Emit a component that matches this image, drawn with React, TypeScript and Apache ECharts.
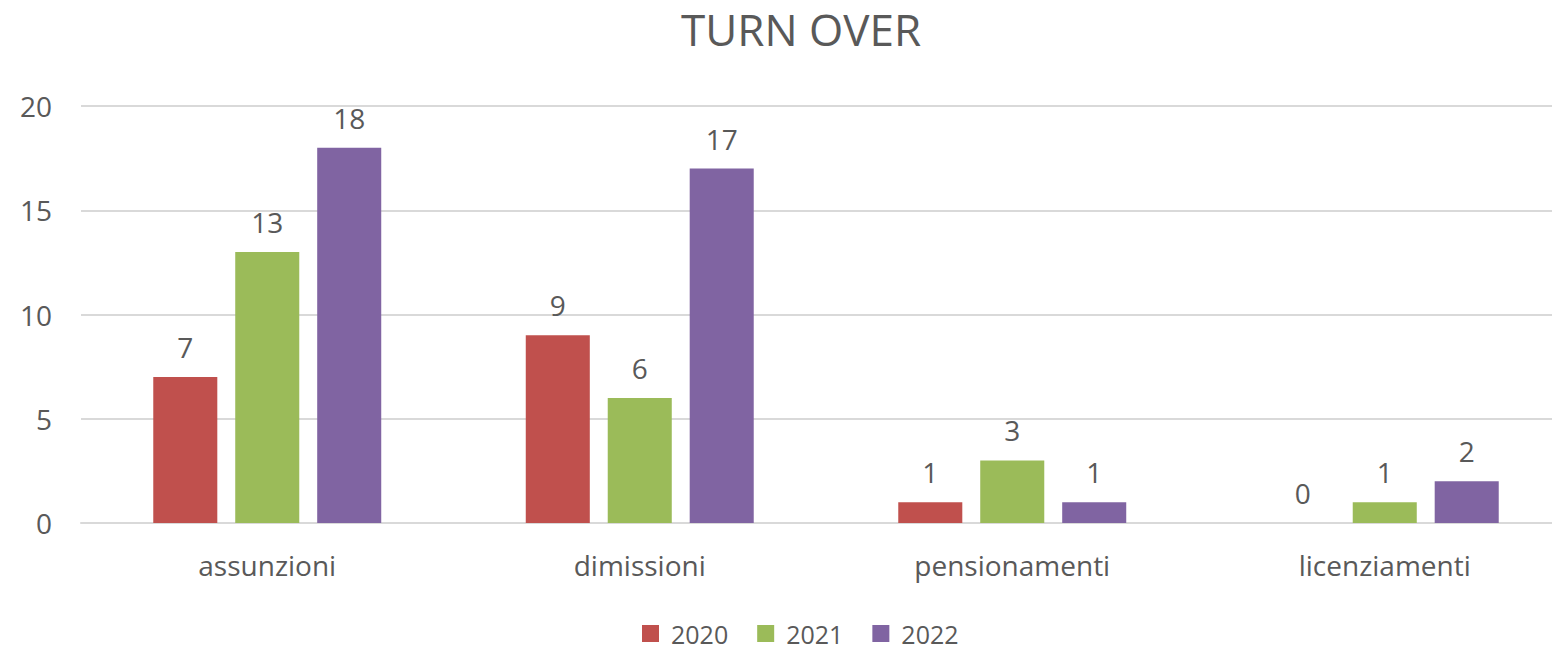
import React, { useEffect, useRef } from "react";
import * as echarts from "echarts";

const categories = ["assunzioni", "dimissioni", "pensionamenti", "licenziamenti"];
const years = ["2020", "2021", "2022"];
const values2020 = [7, 9, 1, 0];
const values2021 = [13, 6, 3, 1];
const values2022 = [18, 17, 1, 2];
const colors = ["#C0504D", "#9BBB59", "#8064A2"];
const yTicks = [0, 5, 10, 15, 20];

const FONT = "'Open Sans', 'Liberation Sans', sans-serif";
const TEXT = "#595959";

export default function App() {
  const ref = useRef<HTMLDivElement>(null);
  useEffect(() => {
    if (!ref.current) return;
    const chart = echarts.init(ref.current, undefined, { renderer: "svg" });
    const data = [values2020, values2021, values2022];
    chart.setOption({
      animation: false,
      backgroundColor: "#ffffff",
      textStyle: { fontFamily: FONT },
      title: {
        text: "TURN OVER",
        left: 796,
        top: 2,
        textAlign: "center",
        textStyle: { fontFamily: FONT, fontSize: 44, fontWeight: "normal", color: TEXT },
      },
      legend: {
        data: years,
        left: 637,
        top: 619,
        padding: [2, 5, 2, 5],
        itemWidth: 17,
        itemHeight: 17,
        itemGap: 29,
        icon: "rect",
        textStyle: {
          fontFamily: FONT,
          fontSize: 25,
          lineHeight: 24,
          color: TEXT,
          padding: [0, 0, 0, 7],
        },
      },
      grid: { left: 81, right: 4, top: 106, bottom: 129, containLabel: false },
      xAxis: {
        type: "category",
        data: categories,
        axisLine: { lineStyle: { color: "#D9D9D9", width: 2 } },
        axisTick: { show: false },
        axisLabel: { fontFamily: FONT, fontSize: 28, color: TEXT, margin: 28 },
      },
      yAxis: {
        type: "value",
        min: yTicks[0],
        max: yTicks[yTicks.length - 1],
        interval: 5,
        axisLine: { show: false },
        axisTick: { show: false },
        axisLabel: { fontFamily: FONT, fontSize: 28, color: TEXT, margin: 29 },
        splitLine: { lineStyle: { color: "#D9D9D9", width: 2 } },
      },
      series: years.map((y, i) => ({
        name: y,
        type: "bar",
        data: data[i],
        itemStyle: { color: colors[i] },
        barGap: "28%",
        barCategoryGap: "38.8%",
        label: {
          show: true,
          position: "top",
          distance: 16,
          fontFamily: FONT,
          fontSize: 28,
          color: TEXT,
        },
      })),
    });
    return () => chart.dispose();
  }, []);
  return (
    <div
      ref={ref}
      style={{ position: "fixed", left: 0, top: 0, width: 1575, height: 652, background: "#fff" }}
    />
  );
}
